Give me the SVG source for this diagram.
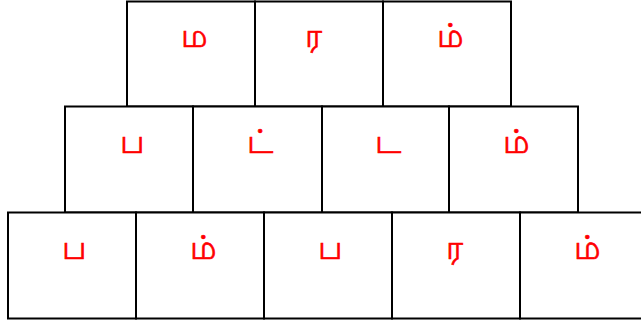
<svg xmlns="http://www.w3.org/2000/svg" width="641" height="327" viewBox="0 0 641 327">
<style>
.box{fill:#fff;stroke:#000;stroke-width:2}
.t{font-family:"Noto Sans","DejaVu Sans",sans-serif;font-size:33px;fill:#ff0000;stroke:#ff0000;stroke-width:0.6}
</style>
<rect width="641" height="327" fill="#fff"/>
<g id="row1">
<g id="n1"><rect class="box" x="127" y="1.5" width="128" height="105"/><text class="t" x="181" y="46.5">ம</text></g>
<g id="n2"><rect class="box" x="255" y="1.5" width="128" height="105"/><text class="t" x="305" y="46.5">ர</text></g>
<g id="n3"><rect class="box" x="383" y="1.5" width="128" height="105"/><text class="t" x="437" y="46.5">ம்</text></g>
</g>
<g id="row2">
<g id="n4"><rect class="box" x="65" y="106.5" width="128" height="106"/><text class="t" x="120" y="152.5">ப</text></g>
<g id="n5"><rect class="box" x="193" y="106.5" width="129" height="106"/><text class="t" x="247" y="152.5">ட்</text></g>
<g id="n6"><rect class="box" x="322" y="106.5" width="127" height="106"/><text class="t" x="375" y="152.5">ட</text></g>
<g id="n7"><rect class="box" x="449" y="106.5" width="129" height="106"/><text class="t" x="503" y="152.5">ம்</text></g>
</g>
<g id="row3">
<g id="n8"><rect class="box" x="8" y="212.5" width="128" height="106"/><text class="t" x="62" y="258.5">ப</text></g>
<g id="n9"><rect class="box" x="136" y="212.5" width="128" height="106"/><text class="t" x="190" y="258.5">ம்</text></g>
<g id="n10"><rect class="box" x="264" y="212.5" width="128" height="106"/><text class="t" x="318" y="258.5">ப</text></g>
<g id="n11"><rect class="box" x="392" y="212.5" width="128" height="106"/><text class="t" x="446" y="258.5">ர</text></g>
<g id="n12"><rect class="box" x="520" y="212.5" width="128" height="106"/><text class="t" x="574" y="258.5">ம்</text></g>
</g>
<g id="connectors"/>
</svg>
